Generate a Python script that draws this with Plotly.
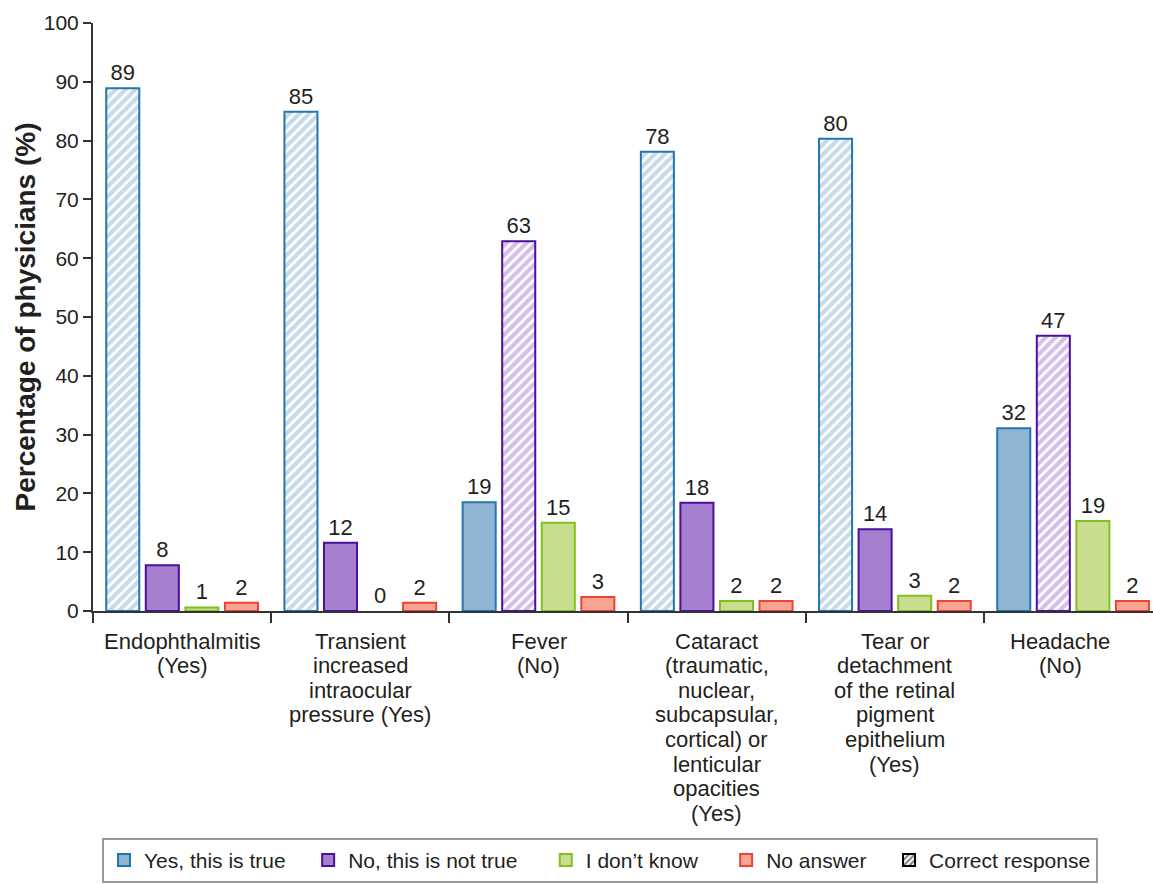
import plotly.graph_objects as go

categories = [
    ["Endophthalmitis", "(Yes)"],
    ["Transient", "increased", "intraocular", "pressure (Yes)"],
    ["Fever", "(No)"],
    ["Cataract", "(traumatic,", "nuclear,", "subcapsular,", "cortical) or", "lenticular", "opacities", "(Yes)"],
    ["Tear or", "detachment", "of the retinal", "pigment", "epithelium", "(Yes)"],
    ["Headache", "(No)"],
]
correct_answer = ["Yes", "Yes", "No", "Yes", "Yes", "No"]

yes_vals = [88.9, 84.9, 18.5, 78.1, 80.3, 31.1]
no_vals = [7.8, 11.6, 62.9, 18.4, 13.9, 46.8]
dk_vals = [0.6, 0.0, 15.0, 1.7, 2.6, 15.3]
na_vals = [1.4, 1.4, 2.4, 1.7, 1.7, 1.7]

yes_labels = ["89", "85", "19", "78", "80", "32"]
no_labels = ["8", "12", "63", "18", "14", "47"]
dk_labels = ["1", "0", "15", "2", "3", "19"]
na_labels = ["2", "2", "3", "2", "2", "2"]

y_ticks = list(range(0, 101, 10))

FONT = "Liberation Sans, Arial, sans-serif"
TXT = "#231f20"
NB = "\u00a0"

series = [
    ("Yes, this is true", "Yes", yes_vals, yes_labels, "#90b5d3", "#2277b0", 3),
    ("No, this is not true", "No", no_vals, no_labels, "#a77fcf", "#4b0fa0", 4),
    ("I don\u2019t know", "DK", dk_vals, dk_labels, "#c8de8e", "#80c020", 4),
    ("No answer", "NA", na_vals, na_labels, "#f9a393", "#ec4335", 3),
]

xs = list(range(len(categories)))
fig = go.Figure()
for name, key, vals, labels, fill, edge, pad in series:
    shapes = ["/" if correct_answer[i] == key else "" for i in xs]
    widths = [2 if v > 0 else 0 for v in vals]
    fig.add_trace(go.Bar(
        x=xs, y=vals, name=name, showlegend=False,
        text=labels, textposition="outside", constraintext="none",
        textfont=dict(family=FONT, size=22, color=TXT),
        cliponaxis=False,
        marker=dict(color=fill, line=dict(color=edge, width=widths),
                    pattern=dict(shape=shapes, fgcolor=[fill] * len(xs), bgcolor="white",
                                 size=7, solidity=0.6)),
        hoverinfo="skip",
    ))

# legend-only entries on a hidden overlaid axis so they don't affect bar grouping
for name, key, vals, labels, fill, edge, pad in series:
    fig.add_trace(go.Bar(
        x=[None], y=[None], name=name + NB * pad, xaxis="x2", yaxis="y2",
        marker=dict(color=fill, line=dict(color=edge, width=2)),
    ))
fig.add_trace(go.Bar(
    x=[None], y=[None], name="Correct response", xaxis="x2", yaxis="y2",
    marker=dict(color="black", line=dict(color="black", width=2),
                pattern=dict(shape="/", fgcolor="black", bgcolor="white", size=5, solidity=0.5)),
))

annotations = []
for i, lines in enumerate(categories):
    for k, line in enumerate(lines):
        annotations.append(dict(
            x=i, xref="x", y=0, yref="paper", yanchor="middle", xanchor="center",
            yshift=-(30 + k * 24.6), xshift=(-13 if i == 5 else 0),
            text=line, showarrow=False,
            font=dict(family=FONT, size=22, color=TXT),
        ))

fig.update_layout(
    width=1153, height=884,
    margin=dict(l=93, r=0, t=23, b=273),
    paper_bgcolor="white", plot_bgcolor="white",
    barmode="group", bargap=0.112, bargroupgap=0.165,
    font=dict(family=FONT, size=21, color=TXT),
    showlegend=True,
    legend=dict(
        orientation="h", x=0.0085, xanchor="left", y=-0.386, yanchor="top",
        bordercolor="#9a9a9a", borderwidth=2, bgcolor="white",
        font=dict(family=FONT, size=21, color=TXT),
        itemclick=False, itemdoubleclick=False,
    ),
    annotations=annotations,
    xaxis2=dict(overlaying="x", visible=False, range=[0, 1]),
    yaxis2=dict(overlaying="y", visible=False, range=[0, 1]),
    xaxis=dict(
        range=[-0.5, -0.5 + 1060 / 178.2],
        tickvals=[-0.5, 0.5, 1.5, 2.5, 3.5, 4.5],
        showticklabels=False, ticks="outside", ticklen=10, tickwidth=2, tickcolor="#333",
        showline=True, linecolor="#333", linewidth=2, showgrid=False, zeroline=False,
    ),
    yaxis=dict(
        range=[0, 100], tickvals=y_ticks,
        ticks="outside", ticklen=8, tickwidth=2, tickcolor="#333",
        tickfont=dict(family=FONT, size=21, color=TXT),
        showline=True, linecolor="#333", linewidth=2, showgrid=False, zeroline=False,
        title=dict(text="<b>Percentage of physicians (%)</b>", standoff=0,
                   font=dict(family=FONT, size=28, color=TXT)),
    ),
)

fig.write_html("out.html")
